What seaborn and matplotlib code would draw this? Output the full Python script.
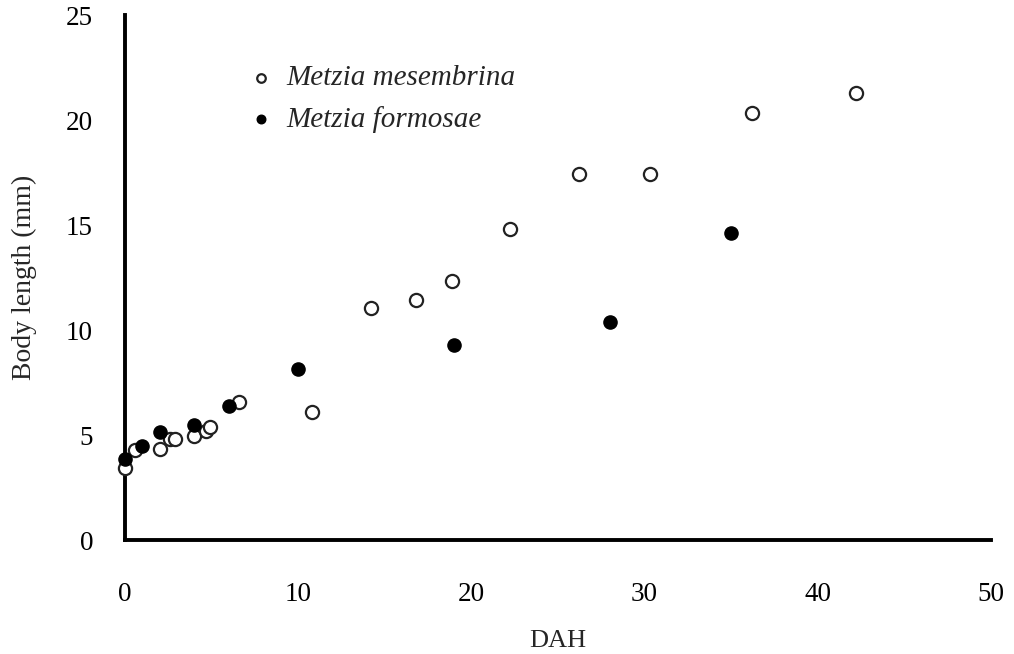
import matplotlib
matplotlib.use("Agg")
import matplotlib.pyplot as plt
import seaborn as sns
import pandas as pd

# Metzia mesembrina (open circles)
mes_dah = [0, 0.6, 2.0, 2.6, 2.9, 4.0, 4.7, 4.9, 6.6, 10.8, 14.2, 16.8, 18.9, 22.2, 26.2, 30.3, 36.2, 42.2]
mes_len = [3.45, 4.3, 4.35, 4.8, 4.8, 4.95, 5.2, 5.4, 6.55, 6.1, 11.05, 11.45, 12.35, 14.8, 17.45, 17.45, 20.35, 21.3]

# Metzia formosae (filled circles)
for_dah = [0, 1.0, 2.0, 4.0, 6.0, 10.0, 19.0, 28.0, 35.0]
for_len = [3.85, 4.5, 5.15, 5.5, 6.4, 8.15, 9.3, 10.4, 14.6]

df_mes = pd.DataFrame({"DAH": mes_dah, "Length": mes_len})
df_for = pd.DataFrame({"DAH": for_dah, "Length": for_len})

sns.set_style("white")
plt.rcParams["font.family"] = ["Liberation Serif", "DejaVu Serif"]

fig = plt.figure(figsize=(10.14, 6.54), dpi=100)
ax = fig.add_axes([0.1233, 0.1743, 0.854, 0.8027])

sns.scatterplot(data=df_mes, x="DAH", y="Length", ax=ax, marker="o", s=90,
                facecolor="white", edgecolor="#222222", linewidth=1.6,
                label="Metzia mesembrina", zorder=3)
sns.scatterplot(data=df_for, x="DAH", y="Length", ax=ax, marker="o", s=90,
                color="black", edgecolor="black", linewidth=1.0,
                label="Metzia formosae", zorder=4)

ax.set_xlim(0, 50)
ax.set_ylim(0, 25)
ax.set_xticks(range(0, 51, 10))
ax.set_yticks(range(0, 26, 5))
ax.set_xlabel("DAH", fontsize=19, labelpad=17)
ax.set_ylabel("Body length (mm)", fontsize=20, labelpad=21)

sns.despine(ax=ax)
for side in ["left", "bottom"]:
    ax.spines[side].set_linewidth(2.8)
    ax.spines[side].set_color("black")
ax.tick_params(axis="both", direction="in", length=9, width=2.4, labelsize=19.5, colors="black")
ax.tick_params(axis="x", pad=30)
ax.tick_params(axis="y", pad=23)
ax.patch.set_alpha(0)
for c in ax.collections:
    c.set_clip_on(False)

leg = ax.legend(loc="upper left", bbox_to_anchor=(0.11, 0.955), frameon=False,
                prop={"style": "italic", "size": 21}, markerscale=0.65,
                handlelength=1.0, handletextpad=0.35, labelspacing=0.5)

fig.savefig("out.png", dpi=100)
